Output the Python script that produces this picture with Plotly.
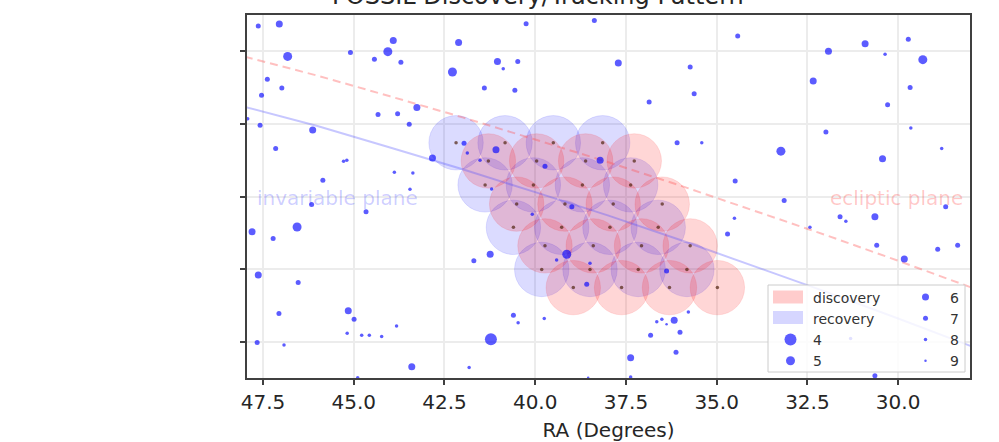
import plotly.graph_objects as go

# ---------------- data ----------------
# Background stars: right ascension, declination (degrees) and visual magnitude
star_ra = [47.63, 47.05, 46.82, 47.38, 46.98, 47.54, 47.58, 47.92, 47.15, 46.13,
           45.85, 45.28, 45.19, 45.09, 44.43, 44.06, 43.91, 43.70, 42.11, 42.28,
           41.40, 43.26, 44.33, 43.79, 43.47, 42.83, 43.88, 43.37, 43.45, 41.96,
           41.87, 41.52, 38.37, 40.25, 41.04, 40.88, 40.48, 40.56, 37.71, 36.86,
           35.73, 35.62, 36.09, 35.41, 41.08, 39.73, 38.21, 41.20, 40.08, 38.99,
           39.13, 39.41, 38.49, 38.58, 36.38, 41.24, 41.69, 34.49, 34.51, 34.70,
           40.60, 40.47, 39.75, 35.78, 41.22, 36.65, 36.51, 36.38, 36.17, 36.01,
           36.82, 36.12, 37.37, 37.37, 38.54, 46.16, 44.66, 47.80, 47.22, 46.56,
           47.63, 46.53, 47.06, 45.15, 44.99, 45.18, 44.78, 44.57, 44.23, 43.82,
           47.66, 46.92, 43.40, 41.82, 44.89, 34.42, 31.92, 30.91, 29.72, 30.36,
           29.32, 32.34, 29.67, 30.29, 31.99, 29.65, 33.23, 30.43, 28.80, 33.14,
           31.60, 31.44, 32.43, 30.64, 28.69, 30.59, 29.83, 28.91, 28.36, 31.31,
           30.64]
star_dec = [18.70, 18.75, 17.86, 17.23, 16.99, 16.79, 15.96, 16.14, 15.32, 15.83,
            14.45, 14.97, 15.00, 17.97, 17.78, 17.99, 18.30, 17.70, 18.24, 17.43,
            16.99, 16.45, 16.26, 16.28, 15.99, 15.06, 14.67, 14.65, 14.20, 15.47,
            15.20, 15.00, 18.85, 18.76, 17.72, 17.52, 17.72, 16.93, 17.68, 16.60,
            17.57, 16.83, 15.48, 15.48, 15.29, 14.83, 15.00, 14.21, 13.51, 13.72,
            12.41, 12.25, 12.16, 11.58, 11.95, 12.41, 12.23, 14.43, 13.40, 12.97,
            10.73, 10.52, 10.64, 10.82, 10.07, 10.55, 10.62, 10.48, 10.59, 10.26,
            10.18, 9.71, 9.56, 9.03, 9.01, 13.78, 13.58, 13.03, 12.84, 13.16,
            11.84, 11.63, 10.78, 10.85, 10.62, 10.23, 10.18, 10.18, 10.14, 10.43,
            9.98, 9.91, 9.31, 9.29, 9.01, 18.42, 18.00, 18.21, 18.33, 17.92,
            17.77, 17.18, 17.00, 16.53, 15.78, 15.89, 15.25, 15.04, 15.32, 13.89,
            13.44, 13.32, 13.15, 13.44, 13.72, 12.66, 12.28, 12.55, 12.66, 10.09,
            9.06]
star_mag = [7, 6, 5, 7, 7, 7, 7, 8, 7, 6,
            7, 8, 8, 7, 7, 5, 6, 7, 6, 5,
            7, 6, 7, 7, 7, 6, 8, 8, 8, 7,
            8, 8, 7, 7, 6, 8, 7, 7, 6, 7,
            7, 7, 7, 8, 6, 7, 6, 8, 8, 7,
            5, 8, 8, 7, 7, 6, 7, 7, 8, 7,
            7, 8, 8, 8, 4, 8, 8, 9, 6, 7,
            7, 7, 6, 8, 9, 7, 7, 6, 7, 5,
            6, 7, 7, 6, 7, 8, 8, 8, 8, 8,
            7, 8, 6, 8, 8, 7, 6, 6, 7, 8,
            5, 6, 7, 7, 7, 8, 5, 6, 8, 7,
            7, 8, 8, 6, 7, 7, 6, 7, 7, 8,
            7]

# Survey pointings (field centres, degrees)
disc_ra = [41.29, 39.96, 38.61, 37.27,
           40.51, 39.18, 37.85, 36.50,
           39.73, 38.40, 37.07, 35.73,
           38.95, 37.62, 36.30, 34.98]
disc_dec = [14.98, 14.98, 14.98, 14.98,
            13.79, 13.79, 13.79, 13.79,
            12.64, 12.64, 12.64, 12.64,
            11.49, 11.49, 11.49, 11.49]
rec_ra = [42.18, 40.83, 39.50, 38.14,
          41.38, 40.05, 38.70, 37.37,
          40.60, 39.27, 37.94, 36.61,
          39.82, 38.49, 37.16, 35.82]
rec_dec = [15.48, 15.48, 15.48, 15.48,
           14.32, 14.32, 14.32, 14.32,
           13.15, 13.15, 13.15, 13.15,
           11.99, 11.99, 11.99, 11.99]
field_radius = 0.75  # degrees

# Reference planes
ecl_ra = [48, 46, 44, 42, 40, 38, 36, 34, 32, 30, 28]
ecl_dec = [17.85, 17.33, 16.76, 16.18, 15.57, 14.95, 14.30, 13.63, 12.94, 12.23, 11.50]
inv_ra = [48, 46, 44, 42, 40, 38, 36, 34, 32, 30, 28]
inv_dec = [16.47, 15.94, 15.35, 14.75, 14.12, 13.48, 12.80, 12.10, 11.38, 10.64, 9.88]

x_ticks = [47.5, 45.0, 42.5, 40.0, 37.5, 35.0, 32.5, 30.0]
x_tick_text = ["47.5", "45.0", "42.5", "40.0", "37.5", "35.0", "32.5", "30.0"]
y_ticks = [10, 12, 14, 16, 18]
magnitudes = [4, 5, 6, 7, 8, 9]

# ---------------- styling ----------------
FONT = "DejaVu Sans"
mag_size = {4: 12, 5: 9, 6: 7, 7: 5, 8: 3.5, 9: 2.5}
STAR_COLOR = "rgba(0,0,255,0.64)"
DISC_FILL = "rgba(255,0,0,0.16)"
REC_FILL = "rgba(0,0,255,0.14)"
DISC_PATCH = "rgba(255,0,0,0.2)"
REC_PATCH = "rgba(0,0,255,0.16)"

W, H = 999, 442
L, R, T, B = 247, 29, 15, 64
pw, ph = W - L - R, H - T - B


def px_x(p):
    return (p - L) / pw


def px_y(p):
    return 1 - (p - T) / ph


fig = go.Figure()

# legend entries for the two pointing sets (their swatches are drawn as shapes below)
for label in ["discovery", "recovery"]:
    fig.add_trace(go.Scatter(x=[None], y=[None], mode="markers", name=label, legend="legend",
                             marker=dict(size=1, color="rgba(0,0,0,0)")))

# planes
fig.add_trace(go.Scatter(x=ecl_ra, y=ecl_dec, mode="lines", showlegend=False, hoverinfo="skip",
                         line=dict(color="rgba(255,80,80,0.36)", width=2, dash="8px,5px")))
fig.add_trace(go.Scatter(x=inv_ra, y=inv_dec, mode="lines", showlegend=False, hoverinfo="skip",
                         line=dict(color="rgba(70,70,255,0.3)", width=2)))

# field centre markers
fig.add_trace(go.Scatter(x=disc_ra + rec_ra, y=disc_dec + rec_dec, mode="markers",
                         showlegend=False, hoverinfo="skip",
                         marker=dict(size=3.5, color="rgba(80,35,15,0.7)")))

# stars, one trace per magnitude
for m in magnitudes:
    xs = [ra for ra, mg in zip(star_ra, star_mag) if mg == m]
    ys = [de for de, mg in zip(star_dec, star_mag) if mg == m]
    fig.add_trace(go.Scatter(x=xs, y=ys, mode="markers", name=str(m),
                             legend="legend" if m <= 5 else "legend2",
                             marker=dict(size=mag_size[m], color=STAR_COLOR, line=dict(width=0))))

# field-of-view circles
shapes = []
for ra, de in zip(rec_ra, rec_dec):
    shapes.append(dict(type="circle", xref="x", yref="y", layer="between",
                       x0=ra - field_radius, x1=ra + field_radius,
                       y0=de - field_radius, y1=de + field_radius,
                       fillcolor=REC_FILL, line=dict(color="rgba(0,0,255,0.10)", width=1)))
for ra, de in zip(disc_ra, disc_dec):
    shapes.append(dict(type="circle", xref="x", yref="y", layer="between",
                       x0=ra - field_radius, x1=ra + field_radius,
                       y0=de - field_radius, y1=de + field_radius,
                       fillcolor=DISC_FILL, line=dict(color="rgba(255,0,0,0.10)", width=1)))

# legend frame and area swatches
shapes.append(dict(type="rect", xref="paper", yref="paper", layer="above",
                   x0=px_x(768), x1=px_x(965), y0=px_y(372), y1=px_y(285),
                   fillcolor="rgba(255,255,255,0.82)", line=dict(color="#cccccc", width=1)))
for yc, col in [(297, DISC_PATCH), (317.5, REC_PATCH)]:
    shapes.append(dict(type="rect", xref="paper", yref="paper", layer="above",
                       x0=px_x(773), x1=px_x(803), y0=px_y(yc + 6.5), y1=px_y(yc - 6.5),
                       fillcolor=col, line=dict(width=0)))

annotations = [
    dict(text="FOSSIL Discovery/Tracking Pattern", xref="paper", yref="paper",
         x=px_x(538), y=px_y(-3.5), xanchor="center", yanchor="middle", showarrow=False,
         font=dict(family=FONT, size=24, color="#262626")),
    dict(text="invariable plane", xref="x", yref="y", x=47.72, y=13.95,
         xanchor="left", yanchor="middle", showarrow=False,
         font=dict(family=FONT, size=20, color="rgba(0,0,255,0.2)")),
    dict(text="ecliptic plane", xref="x", yref="y", x=28.15, y=13.95,
         xanchor="right", yanchor="middle", showarrow=False,
         font=dict(family=FONT, size=20, color="rgba(255,0,0,0.22)")),
]

legend_common = dict(orientation="v", bgcolor="rgba(0,0,0,0)", borderwidth=0,
                     font=dict(family=FONT, size=14, color="#333333"),
                     xanchor="left", yanchor="top", traceorder="normal")

fig.update_layout(
    width=W, height=H,
    margin=dict(l=L, r=R, t=T, b=B, pad=0, autoexpand=False),
    paper_bgcolor="white", plot_bgcolor="white",
    font=dict(family=FONT, color="#262626"),
    shapes=shapes,
    annotations=annotations,
    legend=dict(x=px_x(768), y=px_y(281.5), itemwidth=35, **legend_common),
    legend2=dict(x=px_x(901), y=px_y(281.5), itemwidth=39, **legend_common),
    xaxis=dict(range=[47.94, 28.02], tickvals=x_ticks, ticktext=x_tick_text,
               automargin=False,
               showgrid=True, gridcolor="#ececec", gridwidth=1.5,
               showline=True, mirror=True, linecolor="#404040", linewidth=2,
               ticks="outside", ticklen=5, tickwidth=1.5, tickcolor="#404040",
               tickfont=dict(family=FONT, size=20, color="#262626"),
               title=dict(text="RA (Degrees)", font=dict(family=FONT, size=20, color="#262626"),
                          standoff=10),
               zeroline=False),
    yaxis=dict(range=[9, 19], tickvals=y_ticks, showticklabels=False,
               automargin=False,
               showgrid=True, gridcolor="#ececec", gridwidth=1.5,
               showline=True, mirror=True, linecolor="#404040", linewidth=2,
               ticks="outside", ticklen=5, tickwidth=1.5, tickcolor="#404040",
               zeroline=False),
)

fig.write_html("out.html", config={"displayModeBar": False})
